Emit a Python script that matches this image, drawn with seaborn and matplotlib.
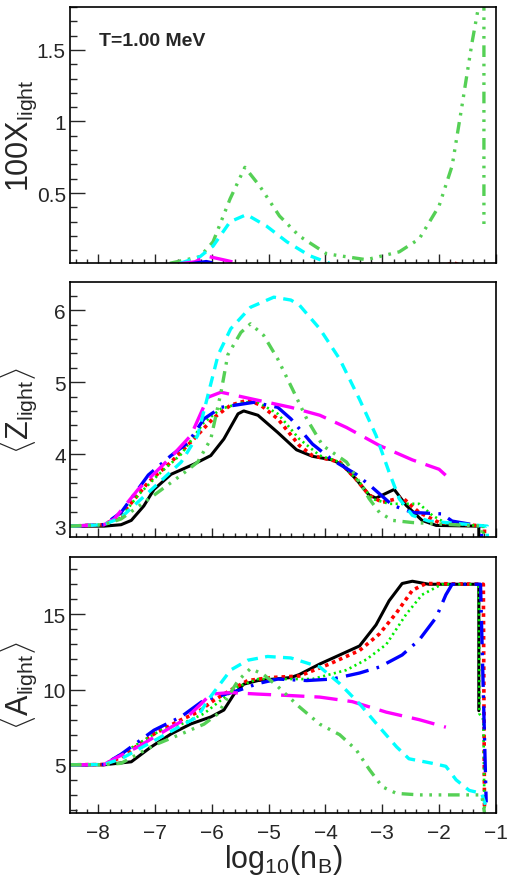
import numpy as np
import pandas as pd
import matplotlib
matplotlib.use("Agg")
import matplotlib.pyplot as plt
from matplotlib.ticker import MultipleLocator, FormatStrFormatter
import seaborn as sns

# ---- data (log10(nB) on x) ----
# panel 1: 100 X_light
x_green2_x = [-6.74, -6.21, -5.98, -5.68, -5.42, -5.16, -4.81, -4.46, -3.98, -3.28, -2.70, -2.35,
              -2.0, -1.77, -1.60, -1.42, -1.26, -1.21, -1.21]
x_green2_y = [0.01, 0.056, 0.16, 0.46, 0.68, 0.55, 0.34, 0.20, 0.076, 0.035, 0.09, 0.18,
              0.41, 0.69, 1.10, 1.55, 1.9, 1.9, 0.27]
x_cyan_x = [-6.56, -6.21, -5.98, -5.68, -5.39, -5.04, -4.68, -4.28, -3.93]
x_cyan_y = [0.01, 0.056, 0.13, 0.30, 0.35, 0.27, 0.16, 0.063, 0.01]
x_mag_x = [-6.6, -6.3, -6.09, -5.75, -5.42]
x_mag_y = [0.005, 0.02, 0.06, 0.03, 0.0]
x_blue_x = [-6.4, -6.1, -5.9]
x_blue_y = [0.005, 0.022, 0.005]
x_red_x = [-1.85, -1.75, -1.65]
x_red_y = [0.0, 0.014, 0.0]

# panel 2: <Z_light>
z_black_x = [-8.5, -7.9, -7.6, -7.42, -7.2, -7.02, -6.72, -6.32, -6.02, -5.79, -5.54, -5.44, -5.19,
             -4.84, -4.51, -4.23, -3.88, -3.70, -3.46, -3.23, -3.11, -2.95, -2.79, -2.58, -2.30,
             -2.05, -1.30, -1.30]
z_black_y = [3.0, 3.0, 3.02, 3.08, 3.28, 3.51, 3.72, 3.86, 3.98, 4.21, 4.56, 4.60, 4.54,
             4.30, 4.06, 3.97, 3.92, 3.85, 3.65, 3.43, 3.39, 3.45, 3.51, 3.29, 3.08,
             3.01, 3.0, 2.7]
z_red_x = [-8.5, -7.9, -7.6, -7.12, -6.72, -6.32, -5.96, -5.67, -5.37, -5.14, -4.84, -4.46, -4.23,
           -3.75, -3.46, -3.23, -3.0, -2.65, -2.35, -2.0, -1.2, -1.2]
z_red_y = [3.0, 3.02, 3.15, 3.61, 3.89, 4.21, 4.51, 4.68, 4.75, 4.68, 4.49, 4.12, 3.98,
           3.89, 3.65, 3.43, 3.33, 3.40, 3.19, 3.05, 3.0, 2.7]
z_lime_x = [-8.5, -7.9, -7.6, -7.3, -6.95, -6.54, -6.14, -5.84, -5.44, -5.19, -4.84, -4.46, -4.1,
            -3.75, -3.40, -3.18, -2.88, -2.35, -2.12, -1.88, -1.22, -1.22]
z_lime_y = [3.0, 3.02, 3.12, 3.43, 3.71, 4.0, 4.44, 4.63, 4.72, 4.72, 4.56, 4.21, 3.98,
            3.89, 3.61, 3.38, 3.31, 3.31, 3.15, 3.04, 3.0, 2.8]
z_blue_x = [-8.5, -7.9, -7.6, -7.12, -6.72, -6.42, -6.14, -5.84, -5.26, -4.84, -4.61, -4.23, -3.88,
            -3.46, -3.18, -2.82, -2.47, -1.95, -1.77, -1.25, -1.25]
z_blue_y = [3.0, 3.02, 3.19, 3.71, 3.98, 4.16, 4.49, 4.65, 4.72, 4.65, 4.49, 4.14, 3.92,
            3.72, 3.54, 3.29, 3.19, 3.17, 3.07, 3.0, 2.7]
z_mag_x = [-8.5, -7.9, -7.72, -7.3, -6.72, -6.37, -6.07, -5.84, -5.26, -4.61, -4.1, -3.63, -3.05,
           -2.47, -2.0, -1.86]
z_mag_y = [3.0, 3.02, 3.1, 3.51, 3.96, 4.26, 4.79, 4.86, 4.76, 4.65, 4.54, 4.37, 4.12,
           3.92, 3.79, 3.69]
z_cyan_x = [-8.5, -7.9, -7.6, -7.02, -6.54, -6.25, -6.07, -5.89, -5.67, -5.32, -4.91, -4.61, -4.46,
            -4.1, -3.75, -3.40, -3.11, -2.88, -2.70, -2.47, -2.18, -1.88, -1.15, -1.15]
z_cyan_y = [3.0, 3.02, 3.12, 3.54, 3.89, 4.26, 4.82, 5.38, 5.74, 6.04, 6.18, 6.14, 6.07,
            5.74, 5.32, 4.76, 4.26, 3.75, 3.38, 3.15, 3.07, 3.05, 3.0, 2.8]
z_green2_x = [-8.5, -7.9, -7.6, -7.02, -6.54, -6.25, -6.02, -5.84, -5.72, -5.49, -5.32, -5.09, -4.84,
              -4.58, -4.33, -4.05, -3.63, -3.40, -3.23, -3.05, -2.82, -2.47, -1.25, -1.25]
z_green2_y = [3.0, 3.02, 3.1, 3.43, 3.71, 3.89, 4.21, 4.86, 5.38, 5.69, 5.81, 5.65, 5.32,
              4.90, 4.49, 4.12, 3.89, 3.61, 3.38, 3.19, 3.08, 3.05, 3.0, 2.7]

# panel 3: <A_light>
a_black_x = [-8.5, -7.9, -7.42, -7.07, -6.72, -6.37, -6.02, -5.79, -5.61, -5.44, -5.19, -4.61, -4.46,
             -4.1, -3.75, -3.40, -3.11, -2.88, -2.65, -2.47, -2.18, -1.30, -1.30]
a_black_y = [5.0, 5.0, 5.2, 6.19, 7.05, 7.72, 8.18, 8.64, 9.70, 10.36, 10.6, 10.8, 11.0,
             11.7, 12.3, 12.9, 14.3, 15.9, 17.05, 17.2, 17.0, 17.0, 8.6]
a_red_x = [-8.5, -7.9, -7.6, -7.02, -6.54, -6.25, -5.96, -5.67, -5.37, -4.96, -4.46, -3.93, -3.40,
           -3.05, -2.75, -2.47, -2.23, -1.22, -1.20]
a_red_y = [5.0, 5.02, 5.5, 7.05, 8.0, 8.5, 9.3, 9.97, 10.6, 10.8, 10.9, 11.7, 12.6,
           13.7, 15.1, 16.6, 17.05, 17.0, 2.0]
a_lime_x = [-8.5, -7.9, -7.3, -6.9, -6.54, -6.14, -5.84, -5.54, -5.19, -4.23, -3.63, -3.28, -2.93,
            -2.58, -2.30, -1.95, -1.30, -1.29, -1.22, -1.20]
a_lime_y = [5.0, 5.02, 6.4, 7.3, 7.7, 8.4, 9.3, 10.2, 10.7, 10.7, 11.3, 12.0, 13.0,
            15.0, 16.3, 17.0, 17.0, 8.4, 8.0, 1.8]
a_blue_x = [-8.5, -7.9, -7.6, -7.02, -6.54, -6.14, -5.84, -5.49, -5.19, -4.84, -4.33, -3.88, -3.40,
            -3.05, -2.65, -2.35, -2.05, -1.88, -1.77, -1.27, -1.17]
a_blue_y = [5.0, 5.02, 5.7, 7.3, 8.2, 9.3, 9.6, 10.0, 10.4, 10.7, 10.6, 10.7, 11.1,
            11.5, 12.3, 13.3, 14.8, 16.3, 17.0, 17.0, 2.5]
a_mag_x = [-8.5, -7.9, -7.72, -7.3, -6.72, -6.49, -6.19, -6.02, -5.67, -5.19, -4.61, -4.1, -3.53,
           -2.93, -2.35, -1.88]
a_mag_y = [5.0, 5.02, 5.4, 6.2, 7.5, 7.98, 9.05, 9.7, 9.8, 9.7, 9.6, 9.5, 9.2,
           8.5, 8.0, 7.5]
a_cyan_x = [-8.5, -7.9, -7.6, -7.02, -6.54, -6.25, -6.07, -5.89, -5.67, -5.37, -5.02, -4.61, -4.1,
            -3.75, -3.40, -3.05, -2.75, -2.53, -2.12, -1.88, -1.70, -1.47, -1.25, -1.18]
a_cyan_y = [5.0, 5.02, 5.4, 6.6, 7.6, 8.2, 9.3, 10.2, 11.3, 11.95, 12.2, 12.1, 11.5,
            10.4, 9.05, 7.5, 6.2, 5.4, 5.1, 4.9, 4.0, 3.3, 3.1, 2.3]
a_green2_x = [-8.5, -7.9, -7.6, -7.02, -6.54, -6.14, -5.89, -5.72, -5.54, -5.32, -5.09, -4.84, -4.46,
              -4.1, -3.75, -3.46, -3.23, -3.0, -2.75, -2.35, -1.25, -1.20]
a_green2_y = [5.0, 5.0, 5.1, 6.3, 7.05, 7.7, 8.4, 9.5, 10.6, 11.4, 11.0, 10.2, 8.85,
              7.7, 7.0, 6.0, 4.7, 3.54, 3.1, 3.0, 3.0, 1.8]

# line styles (color, width, dash pattern)
styles = {
    "black": ("black", 2.2, "-"),
    "red": ("#ff0000", 2.6, (0, (1.0, 1.1))),
    "lime": ("#00ee00", 1.9, (0, (0.8, 1.3))),
    "blue": ("#0000ff", 2.4, (0, (7, 2.5, 0.8, 2.5))),
    "cyan": ("#00ffff", 2.4, (0, (3.2, 2.2))),
    "mag": ("#ff00ff", 2.4, (0, (7, 3))),
    "green2": ("#55d055", 2.4, (0, (3.5, 2, 0.8, 2, 0.8, 2, 0.8, 2))),
}

panel1 = [("green2", x_green2_x, x_green2_y), ("cyan", x_cyan_x, x_cyan_y),
          ("mag", x_mag_x, x_mag_y), ("blue", x_blue_x, x_blue_y), ("red", x_red_x, x_red_y)]
panel2 = [("black", z_black_x, z_black_y), ("red", z_red_x, z_red_y), ("lime", z_lime_x, z_lime_y),
          ("blue", z_blue_x, z_blue_y), ("mag", z_mag_x, z_mag_y), ("cyan", z_cyan_x, z_cyan_y),
          ("green2", z_green2_x, z_green2_y)]
panel3 = [("black", a_black_x, a_black_y), ("red", a_red_x, a_red_y), ("lime", a_lime_x, a_lime_y),
          ("blue", a_blue_x, a_blue_y), ("mag", a_mag_x, a_mag_y), ("cyan", a_cyan_x, a_cyan_y),
          ("green2", a_green2_x, a_green2_y)]

sns.set_style("ticks")
plt.rcParams["font.family"] = ["Liberation Sans", "DejaVu Sans"]
plt.rcParams["mathtext.fontset"] = "custom"
plt.rcParams["mathtext.rm"] = "Liberation Sans"
plt.rcParams["mathtext.it"] = "Liberation Sans"
plt.rcParams["axes.linewidth"] = 1.2

fig = plt.figure(figsize=(5.07, 8.79), dpi=100)
left, width = 0.138, 0.840
ax1 = fig.add_axes([left, 0.700, width, 0.291])
ax2 = fig.add_axes([left, 0.388, width, 0.290])
ax3 = fig.add_axes([left, 0.074, width, 0.291])


def draw(ax, series):
    for key, xs, ys in series:
        color, lw, ls = styles[key]
        df = pd.DataFrame({"x": xs, "y": ys})
        sns.lineplot(data=df, x="x", y="y", ax=ax, sort=False, estimator=None,
                     color=color, linewidth=lw, linestyle=ls)


draw(ax1, panel1)
draw(ax2, panel2)
draw(ax3, panel3)

ax1.set_ylim(0.014, 1.8)
ax2.set_ylim(2.85, 6.39)
ax3.set_ylim(1.8, 18.8)

ax1.yaxis.set_major_locator(MultipleLocator(0.5))
ax1.yaxis.set_minor_locator(MultipleLocator(0.1))
ax1.yaxis.set_major_formatter(FormatStrFormatter("%g"))
ax2.yaxis.set_major_locator(MultipleLocator(1))
ax2.yaxis.set_minor_locator(MultipleLocator(0.2))
ax3.yaxis.set_major_locator(MultipleLocator(5))
ax3.yaxis.set_minor_locator(MultipleLocator(1))

for ax in (ax1, ax2, ax3):
    ax.set_xlim(-8.5, -1.0)
    ax.xaxis.set_major_locator(MultipleLocator(1))
    ax.xaxis.set_minor_locator(MultipleLocator(0.2))
    ax.tick_params(axis="both", which="both", direction="in", labelsize=15, top=False, right=False)
    ax.tick_params(axis="y", which="major", length=10.5, width=1.0, pad=3)
    ax.tick_params(axis="y", which="minor", length=5, width=1.0)
    ax.tick_params(axis="x", which="major", length=6.5, width=1.0, pad=7)
    ax.tick_params(axis="x", which="minor", length=3.2, width=1.0)
    ax.set_xlabel("")
    for sp in ax.spines.values():
        sp.set_visible(True)
        sp.set_color("black")
    ax.yaxis.set_label_coords(-0.072, 0.5)

ax1.tick_params(axis="x", labelbottom=False)
ax2.tick_params(axis="x", labelbottom=False)

ax1.set_ylabel(r"$\mathrm{100X_{light}}$", fontsize=22)
ax2.set_ylabel(r"$\langle\mathrm{Z_{light}}\rangle$", fontsize=22)
ax3.set_ylabel(r"$\langle\mathrm{A_{light}}\rangle$", fontsize=22)
ax3.set_xlabel(r"$\mathrm{log_{10}(n_{B})}$", fontsize=22, labelpad=0)

ax1.text(0.068, 0.87, "T=1.00 MeV", transform=ax1.transAxes, fontsize=14,
         fontweight="bold", va="center", ha="left")

fig.savefig("out.png", dpi=100)
